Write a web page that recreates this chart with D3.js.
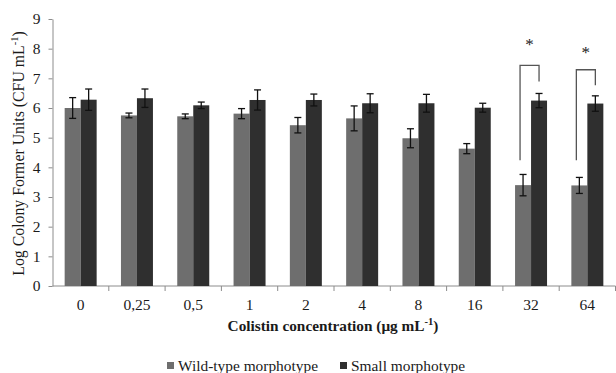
<!DOCTYPE html>
<html>
<head>
<meta charset="utf-8">
<script src="https://cdn.jsdelivr.net/npm/d3@7"></script>
<style>
  body { margin: 0; background: #fff; }
  svg { display: block; font-family: "Liberation Serif", "DejaVu Serif", serif; }
  .axis path, .axis line { stroke: #8c8c8c; }
  .axis text { font-size: 15.5px; fill: #1a1a1a; font-family: "Liberation Serif", serif; }
</style>
</head>
<body>
<svg id="chart" width="616" height="373"></svg>
<script>
const categories = ['0', '0,25', '0,5', '1', '2', '4', '8', '16', '32', '64'];
const seriesNames = ['Wild-type morphotype', 'Small morphotype'];
const wildValues = [6.00, 5.75, 5.72, 5.81, 5.42, 5.65, 4.98, 4.63, 3.40, 3.39];
const wildErrors = [0.35, 0.08, 0.08, 0.17, 0.26, 0.42, 0.32, 0.17, 0.36, 0.27];
const smallValues = [6.28, 6.33, 6.09, 6.27, 6.27, 6.16, 6.16, 6.01, 6.25, 6.15];
const smallErrors = [0.36, 0.31, 0.11, 0.34, 0.20, 0.32, 0.30, 0.15, 0.24, 0.26];
const yTicks = [0, 1, 2, 3, 4, 5, 6, 7, 8, 9];
const colors = ['#6e6e6e', '#2f2f2f'];

// significance brackets (data units)
const sigCategories = ['32', '64'];
const sigTop = [7.44, 7.29];
const sigLeftBottom = [4.24, 4.24];
const sigRightBottom = [6.89, 6.77];
const sigStar = [8.23, 7.95];

const svg = d3.select('#chart');
const margin = { left: 52.5, right: 0.5, top: 19, bottom: 87 };
const width = 616, height = 373;

const x = d3.scaleBand()
  .domain(categories)
  .range([margin.left, width - margin.right]);

const xs = d3.scaleBand()
  .domain(seriesNames)
  .range([0, x.bandwidth()])
  .paddingInner(0)
  .paddingOuter(0.76);

const y = d3.scaleLinear()
  .domain([0, 9])
  .range([height - margin.bottom, margin.top]);

// Y axis
const yAxis = svg.append('g')
  .attr('class', 'axis')
  .call(g => g.attr('transform', `translate(${margin.left},0)`))
  .call(d3.axisLeft(y).tickValues(yTicks).tickSize(4).tickSizeOuter(0).tickPadding(8))
  .attr('font-family', null)
  .attr('font-size', null);

// X axis with ticks at category boundaries
const xAxis = svg.append('g')
  .attr('class', 'axis')
  .attr('transform', `translate(0,${y(0)})`)
  .call(d3.axisBottom(x).tickSize(0).tickPadding(13))
  .attr('font-family', null)
  .attr('font-size', null);
xAxis.select('.domain').attr('d', `M${margin.left},0H${width - margin.right}`);
xAxis.selectAll('.boundary')
  .data(categories)
  .enter()
  .append('line')
  .attr('x1', d => x(d) + x.bandwidth())
  .attr('x2', d => x(d) + x.bandwidth())
  .attr('y1', 0)
  .attr('y2', 5)
  .attr('stroke', '#8c8c8c');

// Bars
const rows = categories.map((c, i) => ({
  cat: c,
  vals: [
    { s: seriesNames[0], v: wildValues[i], e: wildErrors[i] },
    { s: seriesNames[1], v: smallValues[i], e: smallErrors[i] }
  ]
}));

const groups = svg.append('g').selectAll('g')
  .data(rows)
  .enter()
  .append('g')
  .attr('transform', d => `translate(${x(d.cat)},0)`);

groups.selectAll('rect')
  .data(d => d.vals)
  .enter()
  .append('rect')
  .attr('x', d => xs(d.s))
  .attr('width', xs.bandwidth())
  .attr('y', d => y(d.v))
  .attr('height', d => y(0) - y(d.v))
  .attr('fill', (d, i) => colors[i]);

// Error bars
const eb = groups.selectAll('.err')
  .data(d => d.vals)
  .enter()
  .append('g')
  .attr('class', 'err')
  .attr('stroke', '#111')
  .attr('stroke-width', 1.3);
const cx = d => xs(d.s) + xs.bandwidth() / 2;
eb.append('line')
  .attr('x1', cx).attr('x2', cx)
  .attr('y1', d => y(d.v + d.e)).attr('y2', d => y(d.v - d.e));
eb.append('line')
  .attr('x1', d => cx(d) - 3.5).attr('x2', d => cx(d) + 3.5)
  .attr('y1', d => y(d.v + d.e)).attr('y2', d => y(d.v + d.e));
eb.append('line')
  .attr('x1', d => cx(d) - 3.5).attr('x2', d => cx(d) + 3.5)
  .attr('y1', d => y(d.v - d.e)).attr('y2', d => y(d.v - d.e));

// Significance brackets
sigCategories.forEach((c, i) => {
  const xl = x(c) + xs(seriesNames[0]) + xs.bandwidth() / 2 - 3;
  const xr = x(c) + xs(seriesNames[1]) + xs.bandwidth() / 2;
  svg.append('path')
    .attr('d', `M${xl},${y(sigLeftBottom[i])}V${y(sigTop[i])}H${xr}V${y(sigRightBottom[i])}`)
    .attr('fill', 'none')
    .attr('stroke', '#555')
    .attr('stroke-width', 1.3);
  svg.append('text')
    .attr('x', (xl + xr) / 2)
    .attr('y', y(sigStar[i]) + 8)
    .attr('text-anchor', 'middle')
    .style('font-size', '17px')
    .style('fill', '#222')
    .text('*');
});

// Axis titles
const yt = svg.append('text')
  .attr('transform', `translate(24,${(margin.top + y(0)) / 2 + 1}) rotate(-90)`)
  .attr('text-anchor', 'middle')
  .style('font-size', '15.8px')
  .style('fill', '#1a1a1a');
yt.append('tspan').text('Log Colony Former Units (CFU mL');
yt.append('tspan').attr('dy', -6).style('font-size', '10.5px').text('-1');
yt.append('tspan').attr('dy', 6).text(')');

const xt = svg.append('text')
  .attr('x', 333)
  .attr('y', 331)
  .attr('text-anchor', 'middle')
  .style('font-size', '15.3px')
  .style('font-weight', 'bold')
  .style('fill', '#1a1a1a');
xt.append('tspan').text('Colistin concentration (μg mL');
xt.append('tspan').attr('dy', -6).style('font-size', '10.5px').text('-1');
xt.append('tspan').attr('dy', 6).text(')');

// Legend
const legendX = [167, 340];
const legend = svg.append('g').selectAll('g')
  .data(seriesNames)
  .enter()
  .append('g')
  .attr('transform', (d, i) => `translate(${legendX[i]},366)`);
legend.append('rect')
  .attr('x', 0).attr('y', -4)
  .attr('width', 7).attr('height', 7)
  .attr('fill', (d, i) => colors[i]);
legend.append('text')
  .attr('x', 11)
  .attr('y', 5)
  .style('font-size', '15.4px')
  .style('fill', '#1a1a1a')
  .text(d => d);
</script>
</body>
</html>
